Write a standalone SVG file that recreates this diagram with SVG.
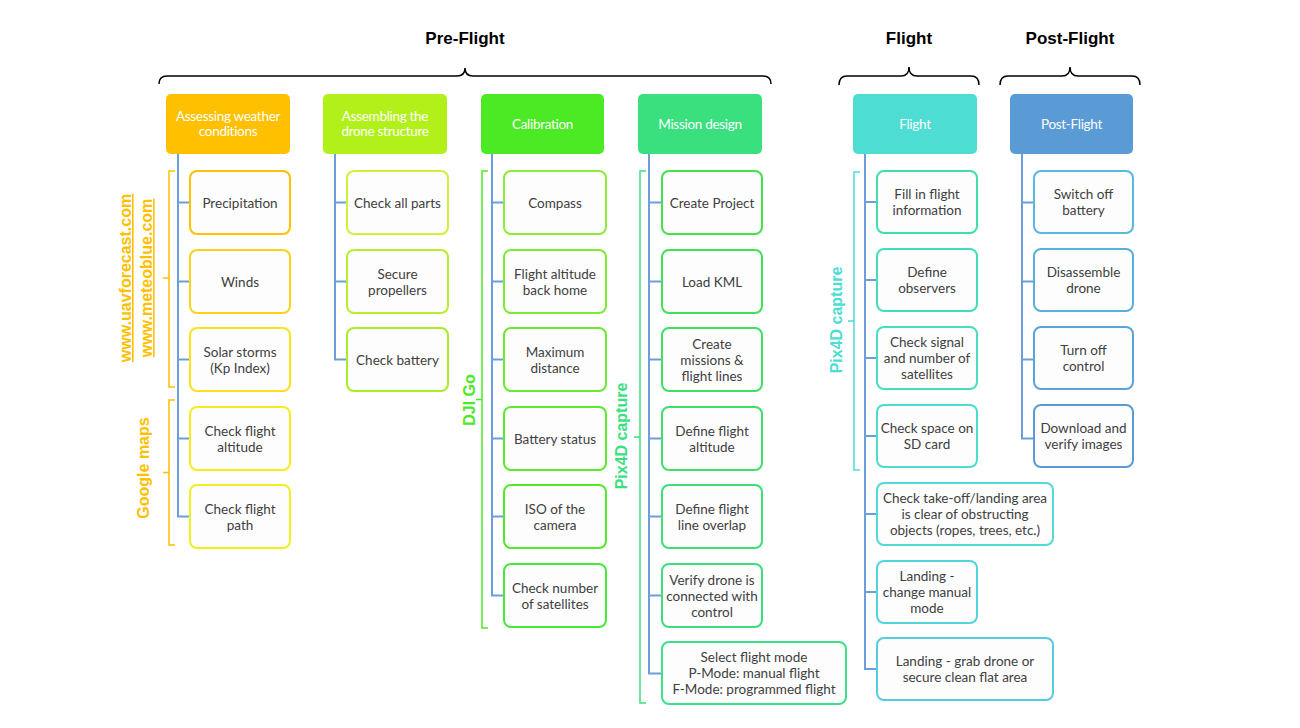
<svg xmlns="http://www.w3.org/2000/svg" width="1300" height="728" viewBox="0 0 1300 728">
<style>
.hd{stroke:none}
.ht{font-family:Lato,"Open Sans",sans-serif;font-size:13.5px;fill:#fff;text-anchor:middle;letter-spacing:-0.3px}
.bx{fill:#fdfdfd;stroke-width:2}
.bt{font-family:Lato,"Open Sans",sans-serif;font-size:13.5px;fill:#404040;text-anchor:middle}
.ti{font-family:"Liberation Sans",Arial,sans-serif;font-size:17px;font-weight:bold;fill:#000;text-anchor:middle}
.sl{font-family:"Liberation Sans",Arial,sans-serif;font-size:16px;font-weight:bold;text-anchor:middle}
.br{fill:none;stroke:#000;stroke-width:1.5}
.cn{fill:none;stroke:#6a9fdb;stroke-width:2}
.sb{fill:none;stroke-width:1.5}
</style>
<rect width="1300" height="728" fill="#fff"/>
<g id="titles">
<text class="ti" x="465" y="44">Pre-Flight</text>
<path class="br" d="M159,84 Q159,76 167,76 L457,76 Q465,76 465,68 Q465,76 473,76 L763,76 Q771,76 771,84"/>
<text class="ti" x="909" y="44">Flight</text>
<path class="br" d="M839,85 Q839,76 847,76 L901,76 Q909,76 909,67 Q909,76 917,76 L971,76 Q979,76 979,85"/>
<text class="ti" x="1070" y="44">Post-Flight</text>
<path class="br" d="M1000,85 Q1000,76 1008,76 L1062,76 Q1070,76 1070,67 Q1070,76 1078,76 L1132,76 Q1140,76 1140,85"/>
</g>
<g id="connectors">
<path class="cn" d="M178,154V516.5H190M178,202.5H190M178,281.5H190M178,359.5H190M178,438.5H190"/>
<path class="cn" d="M335,154V359.5H347M335,202.5H347M335,281.5H347"/>
<path class="cn" d="M492,154V595.5H504M492,202.5H504M492,281.5H504M492,359.5H504M492,438.5H504M492,516.5H504"/>
<path class="cn" d="M649,154V673.5H662M649,202.5H662M649,281.5H662M649,359.5H662M649,438.5H662M649,516.5H662M649,595.5H662"/>
<path class="cn" d="M865,154V669H877M865,202H877M865,280H877M865,358H877M865,436H877M865,514H877M865,592H877"/>
<path class="cn" d="M1022,154V438.5H1034M1022,202.5H1034M1022,281.5H1034M1022,359.5H1034"/>
</g>
<g id="side-labels">
<path class="sb" stroke="#FFC000" d="M175,171H169V387H175M169,278H163"/>
<text class="sl" fill="#FFC000" text-decoration="underline" transform="translate(131,278) rotate(-90)">www.uavforecast.com</text>
<text class="sl" fill="#FFC000" text-decoration="underline" transform="translate(152,278) rotate(-90)">www.meteoblue.com</text>
<path class="sb" stroke="#FFC000" d="M175,400H169V545H175M169,472.5H163"/>
<text class="sl" fill="#FFC000" transform="translate(148.5,468) rotate(-90)">Google maps</text>
<path class="sb" stroke="#4BEA24" d="M488,171H482V628H488M482,399.5H476"/>
<text class="sl" fill="#4BEA24" transform="translate(475,400) rotate(-90)">DJI Go</text>
<path class="sb" stroke="#3AE07E" d="M646,171H640V703H646M640,437H634"/>
<text class="sl" fill="#3AE07E" transform="translate(627,436) rotate(-90)">Pix4D capture</text>
<path class="sb" stroke="#4DDDD3" d="M860,172H854V470H860M854,321H848"/>
<text class="sl" fill="#4DDDD3" transform="translate(842,320) rotate(-90)">Pix4D capture</text>
</g>
<g id="weather">
<rect class="hd" x="166" y="94" width="124" height="60" rx="5" fill="#FFC000"/>
<text class="ht" x="228" y="120.5">Assessing weather</text>
<text class="ht" x="228" y="135.5">conditions</text>
</g>
<g id="w1"><rect class="bx" x="190" y="171" width="100" height="63" rx="7" stroke="#FFC000"/><text class="bt" x="240" y="207.5">Precipitation</text></g>
<g id="w2"><rect class="bx" x="190" y="250" width="100" height="63" rx="7" stroke="#FFD21A"/><text class="bt" x="240" y="286.5">Winds</text></g>
<g id="w3"><rect class="bx" x="190" y="328" width="100" height="63" rx="7" stroke="#FFE01A"/><text class="bt" x="240" y="356.5">Solar storms</text><text class="bt" x="240" y="372.5">(Kp Index)</text></g>
<g id="w4"><rect class="bx" x="190" y="407" width="100" height="63" rx="7" stroke="#F8EC1A"/><text class="bt" x="240" y="435.5">Check flight</text><text class="bt" x="240" y="451.5">altitude</text></g>
<g id="w5"><rect class="bx" x="190" y="485" width="100" height="63" rx="7" stroke="#EEF020"/><text class="bt" x="240" y="513.5">Check flight</text><text class="bt" x="240" y="529.5">path</text></g>
<g id="assembly">
<rect class="hd" x="323" y="94" width="124" height="60" rx="5" fill="#B2F01A"/>
<text class="ht" x="385" y="120.5">Assembling the</text>
<text class="ht" x="385" y="135.5">drone structure</text>
</g>
<g id="a1"><rect class="bx" x="347" y="171" width="101" height="63" rx="7" stroke="#CCF23A"/><text class="bt" x="397.5" y="207.5">Check all parts</text></g>
<g id="a2"><rect class="bx" x="347" y="250" width="101" height="63" rx="7" stroke="#BAEE2C"/><text class="bt" x="397.5" y="278.5">Secure</text><text class="bt" x="397.5" y="294.5">propellers</text></g>
<g id="a3"><rect class="bx" x="347" y="328" width="101" height="63" rx="7" stroke="#A8EC2A"/><text class="bt" x="397.5" y="364.5">Check battery</text></g>
<g id="calibration">
<rect class="hd" x="481" y="94" width="123" height="60" rx="5" fill="#4BEA24"/>
<text class="ht" x="542.5" y="128.5">Calibration</text>
</g>
<g id="c1"><rect class="bx" x="504" y="171" width="102" height="63" rx="7" stroke="#8CEC38"/><text class="bt" x="555" y="207.5">Compass</text></g>
<g id="c2"><rect class="bx" x="504" y="250" width="102" height="63" rx="7" stroke="#7CEB32"/><text class="bt" x="555" y="278.5">Flight altitude</text><text class="bt" x="555" y="294.5">back home</text></g>
<g id="c3"><rect class="bx" x="504" y="328" width="102" height="63" rx="7" stroke="#6CEA2E"/><text class="bt" x="555" y="356.5">Maximum</text><text class="bt" x="555" y="372.5">distance</text></g>
<g id="c4"><rect class="bx" x="504" y="407" width="102" height="63" rx="7" stroke="#5CEA2A"/><text class="bt" x="555" y="443.5">Battery status</text></g>
<g id="c5"><rect class="bx" x="504" y="485" width="102" height="63" rx="7" stroke="#50EA2A"/><text class="bt" x="555" y="513.5">ISO of the</text><text class="bt" x="555" y="529.5">camera</text></g>
<g id="c6"><rect class="bx" x="504" y="564" width="102" height="63" rx="7" stroke="#48E838"/><text class="bt" x="555" y="592.5">Check number</text><text class="bt" x="555" y="608.5">of satellites</text></g>
<g id="mission">
<rect class="hd" x="638" y="94" width="124" height="60" rx="5" fill="#3AE07E"/>
<text class="ht" x="700" y="128.5">Mission design</text>
</g>
<g id="m1"><rect class="bx" x="662" y="171" width="100" height="63" rx="7" stroke="#45E04C"/><text class="bt" x="712" y="207.5">Create Project</text></g>
<g id="m2"><rect class="bx" x="662" y="250" width="100" height="63" rx="7" stroke="#42E056"/><text class="bt" x="712" y="286.5">Load KML</text></g>
<g id="m3"><rect class="bx" x="662" y="328" width="100" height="63" rx="7" stroke="#40E060"/><text class="bt" x="712" y="348.5">Create</text><text class="bt" x="712" y="364.5">missions &amp;</text><text class="bt" x="712" y="380.5">flight lines</text></g>
<g id="m4"><rect class="bx" x="662" y="407" width="100" height="63" rx="7" stroke="#3EE06A"/><text class="bt" x="712" y="435.5">Define flight</text><text class="bt" x="712" y="451.5">altitude</text></g>
<g id="m5"><rect class="bx" x="662" y="485" width="100" height="63" rx="7" stroke="#3CE074"/><text class="bt" x="712" y="513.5">Define flight</text><text class="bt" x="712" y="529.5">line overlap</text></g>
<g id="m6"><rect class="bx" x="662" y="564" width="100" height="63" rx="7" stroke="#3AE07E"/><text class="bt" x="712" y="584.5">Verify drone is</text><text class="bt" x="712" y="600.5">connected with</text><text class="bt" x="712" y="616.5">control</text></g>
<g id="m7"><rect class="bx" x="662" y="642" width="184" height="62" rx="7" stroke="#3AE08A"/><text class="bt" x="754" y="662">Select flight mode</text><text class="bt" x="754" y="678">P-Mode: manual flight</text><text class="bt" x="754" y="694">F-Mode: programmed flight</text></g>
<g id="flight">
<rect class="hd" x="853" y="94" width="124" height="60" rx="5" fill="#4DDDD3"/>
<text class="ht" x="915" y="128.5">Flight</text>
</g>
<g id="f1"><rect class="bx" x="877" y="171" width="100" height="62" rx="7" stroke="#40DFA8"/><text class="bt" x="927" y="198.5">Fill in flight</text><text class="bt" x="927" y="214.5">information</text></g>
<g id="f2"><rect class="bx" x="877" y="249" width="100" height="62" rx="7" stroke="#44DEB6"/><text class="bt" x="927" y="276.5">Define</text><text class="bt" x="927" y="292.5">observers</text></g>
<g id="f3"><rect class="bx" x="877" y="327" width="100" height="62" rx="7" stroke="#48DEC2"/><text class="bt" x="927" y="346.5">Check signal</text><text class="bt" x="927" y="362.5">and number of</text><text class="bt" x="927" y="378.5">satellites</text></g>
<g id="f4"><rect class="bx" x="877" y="405" width="100" height="62" rx="7" stroke="#4CDDCE"/><text class="bt" x="927" y="432.5">Check space on</text><text class="bt" x="927" y="448.5">SD card</text></g>
<g id="f5"><rect class="bx" x="877" y="483" width="176" height="62" rx="7" stroke="#50DAD8"/><text class="bt" x="965" y="502.5">Check take-off/landing area</text><text class="bt" x="965" y="518.5">is clear of obstructing</text><text class="bt" x="965" y="534.5">objects (ropes, trees, etc.)</text></g>
<g id="f6"><rect class="bx" x="877" y="561" width="100" height="62" rx="7" stroke="#52D4DE"/><text class="bt" x="927" y="580.5">Landing -</text><text class="bt" x="927" y="596.5">change manual</text><text class="bt" x="927" y="612.5">mode</text></g>
<g id="f7"><rect class="bx" x="877" y="638" width="176" height="62" rx="7" stroke="#56CCE0"/><text class="bt" x="965" y="665.5">Landing - grab drone or</text><text class="bt" x="965" y="681.5">secure clean flat area</text></g>
<g id="postflight">
<rect class="hd" x="1010" y="94" width="123" height="60" rx="5" fill="#5B9BD5"/>
<text class="ht" x="1071.5" y="128.5">Post-Flight</text>
</g>
<g id="p1"><rect class="bx" x="1034" y="171" width="99" height="62" rx="7" stroke="#58B8E0"/><text class="bt" x="1083.5" y="198.5">Switch off</text><text class="bt" x="1083.5" y="214.5">battery</text></g>
<g id="p2"><rect class="bx" x="1034" y="249" width="99" height="62" rx="7" stroke="#5AAEDD"/><text class="bt" x="1083.5" y="276.5">Disassemble</text><text class="bt" x="1083.5" y="292.5">drone</text></g>
<g id="p3"><rect class="bx" x="1034" y="327" width="99" height="62" rx="7" stroke="#5BA4D9"/><text class="bt" x="1083.5" y="354.5">Turn off</text><text class="bt" x="1083.5" y="370.5">control</text></g>
<g id="p4"><rect class="bx" x="1034" y="405" width="99" height="62" rx="7" stroke="#5B9BD5"/><text class="bt" x="1083.5" y="432.5">Download and</text><text class="bt" x="1083.5" y="448.5">verify images</text></g>
</svg>
